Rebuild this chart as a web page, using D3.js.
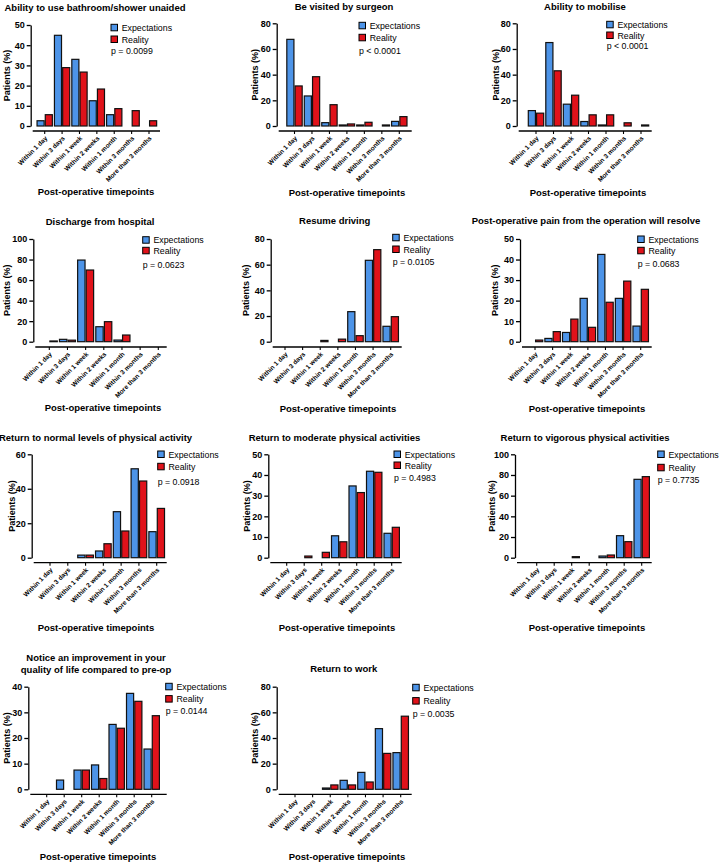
<!DOCTYPE html>
<html><head><meta charset="utf-8">
<script src="https://cdn.jsdelivr.net/npm/d3@7"></script>
<style>
body{margin:0;background:#fff}
svg{display:block}
text{font-family:"Liberation Sans",Arial,Helvetica,sans-serif;fill:#000}
</style>
</head><body><svg id="c" width="720" height="864"></svg>
<script>
// ---------- DATA ----------
const categories = ["Within 1 day","Within 3 days","Within 1 week","Within 2 weeks","Within 1 month","Within 3 months","More than 3 months"];
const seriesNames = ["Expectations","Reality"];
const titles = [
  ["Ability to use bathroom/shower unaided"],
  ["Be visited by surgeon"],
  ["Ability to mobilise"],
  ["Discharge from hospital"],
  ["Resume driving"],
  ["Post-operative pain from the operation will resolve"],
  ["Return to normal levels of physical activity"],
  ["Return to moderate physical activities"],
  ["Return to vigorous physical activities"],
  ["Notice an improvement in your","quality of life compared to pre-op"],
  ["Return to work"]
];
const pValues = ["p = 0.0099","p < 0.0001","p < 0.0001","p = 0.0623","p = 0.0105","p = 0.0683","p = 0.0918","p = 0.4983","p = 0.7735","p = 0.0144","p = 0.0035"];
const yMaxes = [50,80,80,100,80,50,60,50,100,40,80];
const yTickSteps = [10,20,20,20,20,10,20,10,20,10,20];
const expectations = [
  [2.6,44.9,33,12.5,5.6,0,0],
  [67.5,23.4,2.6,0.8,0.8,0,3.6],
  [12,65,17,3.5,0.8,0,0],
  [0,2.3,79.5,14.6,1.6,0,0],
  [0,0,0,0,23.4,63.4,12],
  [0,1.6,4.5,21.1,42.5,21.1,7.6],
  [0,0,1.5,3.9,26.7,51.6,15.1],
  [0,0,0,10.6,34.7,41.8,11.8],
  [0,0,0,0,1.6,21.3,75.8],
  [0,3.6,7.5,9.5,25.3,37.4,15.7],
  [0,0,1,7,13.2,47.3,28.6]
];
const reality = [
  [5.6,28.9,26.7,18.3,8.6,7.6,2.6],
  [31.2,38.4,16.6,1.6,2.9,0.8,7.3],
  [10,43,24,8.7,8.7,2.5,0.8],
  [0.7,1.5,69.8,19.5,6.5,0,0],
  [0,0,1,2,4.7,71.7,19.5],
  [0.8,4.9,11,7,19.2,29.5,25.5],
  [0,0,1.5,8.1,15.5,44.5,28.6],
  [0,0.8,2.6,7.7,31.5,41.3,14.7],
  [0,0,1,0,2.6,15.5,78.4],
  [0,0,7.5,4.2,23.8,34.3,28.7],
  [0,0,3.4,3.4,5.7,28,57]
];

// ---------- LAYOUT / STYLE ----------
const colors = ["#4d94e8","#e0121a"];
const layout = [
  {yAxisX:30.7,axisEnd:160,t0:44.7,t6:149,y0:126,yTop:25,xAxisY:131,titleX:95,titleY:11,legX:111,legY:24.3,legGap:11.7,pY:54.3,xlabX:96,xlabY:195.3,yLabX:7},
  {yAxisX:276.7,axisEnd:411.7,t0:294.5,t6:399.3,y0:126,yTop:23.3,xAxisY:131,titleX:344,titleY:9.5,legX:359,legY:22.3,legGap:12,pY:54,xlabX:347,xlabY:196,yLabX:255},
  {yAxisX:516.7,axisEnd:651.7,t0:536,t6:641,y0:126,yTop:23.3,xAxisY:131,titleX:585,titleY:10,legX:606.7,legY:21.3,legGap:10.7,pY:49.3,xlabX:588,xlabY:196,yLabX:496},
  {yAxisX:33.3,axisEnd:166.7,t0:49.3,t6:158.3,y0:341.7,yTop:239,xAxisY:347,titleX:100,titleY:225,legX:142.7,legY:236.7,legGap:10.6,pY:268.3,xlabX:103,xlabY:411,yLabX:7},
  {yAxisX:270.7,axisEnd:401.7,t0:285,t6:390.7,y0:341.7,yTop:239,xAxisY:347,titleX:334.7,titleY:224.3,legX:392.7,legY:234.3,legGap:11.7,pY:265,xlabX:338,xlabY:411.7,yLabX:246},
  {yAxisX:520,axisEnd:651.7,t0:535,t6:640.7,y0:341.7,yTop:239,xAxisY:347,titleX:586,titleY:224.3,legX:637.7,legY:236,legGap:11.3,pY:267.3,xlabX:587,xlabY:411.7,yLabX:495},
  {yAxisX:31.7,axisEnd:166.7,t0:50,t6:156.7,y0:557.7,yTop:454.3,xAxisY:562.7,titleX:95.5,titleY:440.7,legX:157.7,legY:451,legGap:12.3,pY:485,xlabX:96,xlabY:631,yLabX:11.7},
  {yAxisX:268.3,axisEnd:401.7,t0:286.7,t6:391.7,y0:557.7,yTop:454.3,xAxisY:562.7,titleX:334.5,titleY:440.7,legX:394,legY:451,legGap:11,pY:480.7,xlabX:337,xlabY:631,yLabX:247.3},
  {yAxisX:515,axisEnd:651.7,t0:536.7,t6:641.7,y0:557.7,yTop:454.3,xAxisY:562.7,titleX:585,titleY:440.7,legX:657.7,legY:451,legGap:13.3,pY:483.3,xlabX:587,xlabY:631,yLabX:491.7},
  {yAxisX:28.3,axisEnd:166.7,t0:46.7,t6:151.7,y0:789.3,yTop:686.7,xAxisY:794.3,titleX:96,titleY:661,legX:165.7,legY:683.3,legGap:12.3,pY:714,xlabX:98,xlabY:860,yLabX:6.7},
  {yAxisX:276.7,axisEnd:411.7,t0:295,t6:400.7,y0:789.3,yTop:686.7,xAxisY:794.3,titleX:343.7,titleY:672.3,legX:412.7,legY:684.3,legGap:13.3,pY:716.7,xlabX:347,xlabY:860,yLabX:255}
];

const svg = d3.select("#c");
svg.append("rect").attr("width",720).attr("height",864).attr("fill","#fff");

titles.forEach((title, i) => {
  const L = layout[i];
  const g = svg.append("g");
  const step = (L.t6 - L.t0) / 6;
  const x = d3.scaleBand().domain(categories)
    .range([L.t0 - step/2, L.t6 + step/2]).paddingInner(0.12).paddingOuter(0.06);
  const xs = d3.scaleBand().domain(seriesNames).range([0, x.bandwidth()]).paddingInner(0.14);
  const y = d3.scaleLinear().domain([0, yMaxes[i]]).range([L.y0, L.yTop]);

  // bars
  const rows = categories.map((c, k) => ({c, vals: [expectations[i][k], reality[i][k]]}));
  g.selectAll("g.grp").data(rows).join("g").attr("class","grp")
    .attr("transform", d => `translate(${x(d.c)},0)`)
    .selectAll("rect")
    .data(d => d.vals.map((v, j) => ({s: seriesNames[j], v, j})).filter(d => d.v > 0))
    .join("rect")
    .attr("x", d => xs(d.s))
    .attr("y", d => y(d.v))
    .attr("width", xs.bandwidth())
    .attr("height", d => L.y0 - y(d.v))
    .attr("fill", d => colors[d.j])
    .attr("stroke", "#111")
    .attr("stroke-width", 1.2);

  // y axis
  const ya = g.append("g").attr("transform", `translate(${L.yAxisX},0)`)
    .call(d3.axisLeft(y).tickValues(d3.range(0, yMaxes[i] + 1e-9, yTickSteps[i]))
      .tickSize(4).tickPadding(2).tickSizeOuter(0));
  ya.select(".domain").attr("stroke","#000").attr("stroke-width",1.3);
  ya.selectAll(".tick line").attr("stroke","#000").attr("stroke-width",1.3);
  ya.selectAll(".tick text").attr("font-size","9px").attr("font-weight","bold")
    .attr("font-family","Liberation Sans, Arial, sans-serif");

  // x axis
  const xa = g.append("g").attr("transform", `translate(0,${L.xAxisY})`)
    .call(d3.axisBottom(x).tickSize(3).tickSizeOuter(0));
  xa.select(".domain").remove();
  xa.append("line").attr("x1", L.yAxisX + 2).attr("x2", L.axisEnd)
    .attr("y1", 0).attr("y2", 0).attr("stroke","#000").attr("stroke-width",1.3);
  xa.selectAll(".tick line").attr("stroke","#000").attr("stroke-width",1.1);
  xa.selectAll(".tick text")
    .attr("x", 0).attr("y", 0).attr("dy", "0.35em")
    .attr("text-anchor","end")
    .attr("transform","translate(1.5,6) rotate(-45)")
    .attr("font-size","6.5px").attr("font-weight","bold")
    .attr("font-family","Liberation Sans, Arial, sans-serif");

  // title
  title.forEach((line, k) => {
    g.append("text").attr("x", L.titleX).attr("y", L.titleY + k * 11.7)
      .attr("text-anchor","middle").attr("font-size","9.5px").attr("font-weight","bold")
      .text(line);
  });

  // y label
  g.append("text")
    .attr("transform", `translate(${L.yLabX + 3},${(L.y0 + L.yTop) / 2}) rotate(-90)`)
    .attr("text-anchor","middle").attr("font-size","9px").attr("font-weight","bold")
    .text("Patients (%)");

  // x label
  g.append("text").attr("x", L.xlabX).attr("y", L.xlabY)
    .attr("text-anchor","middle").attr("font-size","9.5px").attr("font-weight","bold")
    .text("Post-operative timepoints");

  // legend
  seriesNames.forEach((s, j) => {
    const ly = L.legY + j * L.legGap;
    g.append("rect").attr("x", L.legX).attr("y", ly).attr("width", 6.5).attr("height", 6.5)
      .attr("fill", colors[j]).attr("stroke","#000").attr("stroke-width",1);
    g.append("text").attr("x", L.legX + 10.7).attr("y", ly + 6.5)
      .attr("font-size","8.8px").text(s);
  });
  g.append("text").attr("x", L.legX).attr("y", L.pY).attr("font-size","8.8px").text(pValues[i]);
});
</script>
</body></html>
